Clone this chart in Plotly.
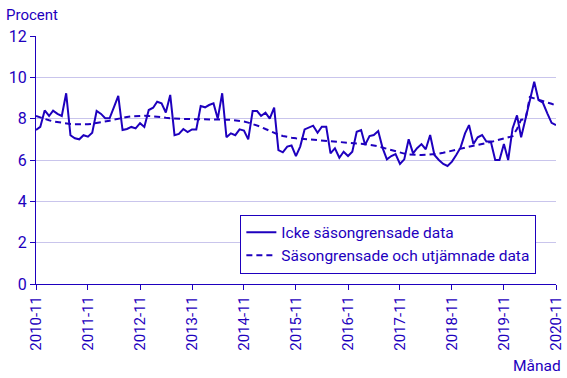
import plotly.graph_objects as go
import pandas as pd

months = pd.date_range("2010-11-01", "2020-11-01", freq="MS")

icke = [
    7.45, 7.6, 8.4, 8.13, 8.39, 8.23, 8.13, 9.23, 7.2, 7.05,
    7.0, 7.2, 7.13, 7.32, 8.37, 8.23, 8.02, 8.02, 8.55, 9.1,
    7.45, 7.5, 7.6, 7.53, 7.78, 7.6, 8.42, 8.53, 8.82, 8.74,
    8.3, 9.15, 7.2, 7.26, 7.5, 7.35, 7.48, 7.48, 8.61, 8.55,
    8.66, 8.74, 8.0, 9.23, 7.1, 7.29, 7.2, 7.48, 7.42, 7.0,
    8.37, 8.37, 8.13, 8.29, 8.0, 8.53, 6.48, 6.37, 6.65, 6.7,
    6.19, 6.65, 7.48, 7.58, 7.66, 7.32, 7.61, 7.61, 6.32, 6.57,
    6.11, 6.4, 6.19, 6.4, 7.37, 7.45, 6.73, 7.16, 7.21, 7.4,
    6.6, 6.03, 6.19, 6.29, 5.81, 6.03, 7.0, 6.32, 6.57, 6.77,
    6.52, 7.21, 6.24, 6.0, 5.81, 5.71, 5.92, 6.24, 6.61, 7.29,
    7.69, 6.77, 7.1, 7.21, 6.89, 6.89, 6.0, 6.0, 6.77, 6.0,
    7.53, 8.16, 7.1, 8.0, 8.82, 9.79, 8.9, 8.77, 8.26, 7.8,
    7.69,
]

trend = [
    8.13, 8.05, 7.98, 7.92, 7.87, 7.83, 7.79, 7.76, 7.74, 7.73,
    7.72, 7.72, 7.73, 7.75, 7.78, 7.82, 7.86, 7.9, 7.95, 8.0,
    8.05, 8.08, 8.11, 8.13, 8.14, 8.14, 8.13, 8.12, 8.1, 8.07,
    8.04, 8.02, 8.0, 7.99, 7.98, 7.98, 7.98, 7.98, 7.98, 7.98,
    7.98, 7.98, 7.97, 7.96, 7.95, 7.94, 7.92, 7.89, 7.86, 7.81,
    7.75, 7.69, 7.6, 7.5, 7.4, 7.31, 7.23, 7.16, 7.11, 7.08,
    7.05, 7.03, 7.02, 7.01, 7.0, 6.98, 6.96, 6.94, 6.92, 6.9,
    6.88, 6.86, 6.84, 6.82, 6.8, 6.79, 6.77, 6.74, 6.7, 6.66,
    6.6, 6.54, 6.47, 6.41, 6.35, 6.31, 6.27, 6.25, 6.24, 6.24,
    6.25, 6.26, 6.27, 6.31, 6.35, 6.4, 6.45, 6.51, 6.57, 6.61,
    6.65, 6.69, 6.73, 6.77, 6.82, 6.87, 6.93, 6.98, 7.04, 7.1,
    7.15, 7.5, 7.95, 7.97, 9.05, 8.98, 8.92, 8.87, 8.8, 8.72,
    8.64,
]

tick_labels = ["2010-11", "2011-11", "2012-11", "2013-11", "2014-11", "2015-11",
               "2016-11", "2017-11", "2018-11", "2019-11", "2020-11"]
tick_dates = pd.to_datetime([t + "-01" for t in tick_labels])
y_ticks = [0, 2, 4, 6, 8, 10, 12]

BLUE = "#1E00BE"
GRID = "#C9C5EC"
FONT = "Roboto"

fig = go.Figure()
fig.add_trace(go.Scatter(x=months, y=icke, mode="lines", name="Icke säsongrensade data",
                         line=dict(color=BLUE, width=2)))
fig.add_trace(go.Scatter(x=months, y=trend, mode="lines", name="Säsongrensade och utjämnade data",
                         line=dict(color=BLUE, width=2, dash="6px,4px")))

fig.update_layout(
    width=567, height=378,
    margin=dict(l=36, r=11, t=36, b=94),
    paper_bgcolor="white", plot_bgcolor="white",
    font=dict(family=FONT, size=15, color=BLUE),
    showlegend=True,
    legend=dict(x=0.393, y=0.28, xanchor="left", yanchor="top",
                bgcolor="white", bordercolor=BLUE, borderwidth=1,
                font=dict(family=FONT, size=15.5, color=BLUE),
                tracegroupgap=0, itemwidth=30),
    xaxis=dict(range=[months[0], months[-1]], tickvals=tick_dates, ticktext=tick_labels,
               tickangle=-90, showgrid=False, showline=True, linecolor=BLUE, linewidth=1,
               ticks="outside", ticklen=5, tickcolor=BLUE, automargin=False,
               tickfont=dict(family=FONT, size=15, color=BLUE), zeroline=False),
    yaxis=dict(range=[0, 12], tickvals=y_ticks, showgrid=True, gridcolor=GRID, gridwidth=1,
               showline=True, linecolor=BLUE, linewidth=1, automargin=False,
               ticks="outside", ticklen=5, tickcolor=BLUE,
               tickfont=dict(family=FONT, size=16, color=BLUE), zeroline=False),
    annotations=[
        dict(text="Procent", xref="paper", yref="paper", x=0, xshift=-32, y=1.0, yshift=21,
             xanchor="left", yanchor="middle", showarrow=False,
             font=dict(family=FONT, size=15, color=BLUE)),
        dict(text="Månad", xref="paper", yref="paper", x=1.0, xshift=7, y=0, yshift=-82,
             xanchor="right", yanchor="middle", showarrow=False,
             font=dict(family=FONT, size=15.5, color=BLUE)),
    ],
)

fig.write_html("out.html", config={"displayModeBar": False},
               post_script="document.body.style.margin='0';")
